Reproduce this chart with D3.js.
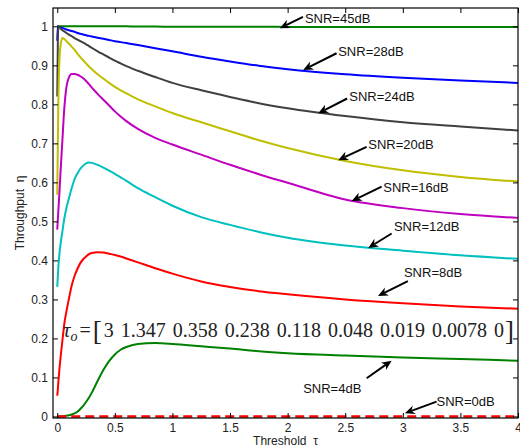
<!DOCTYPE html>
<html>
<head>
<meta charset="utf-8">
<script src="https://cdn.jsdelivr.net/npm/d3@7"></script>
<style>
  body { margin: 0; background: #fff; }
  .tick text { font-family: "Liberation Sans", Arial, sans-serif; font-size: 12px; fill: #222; }
  .tick line { stroke: #000; stroke-width: 1; }
</style>
</head>
<body>
<svg id="chart" width="520" height="448"></svg>
<script>
// Threshold samples shared by every curve
const tau = [0, 0.005, 0.01, 0.02, 0.03, 0.045, 0.06, 0.08, 0.1, 0.125, 0.15, 0.175, 0.2, 0.225, 0.25, 0.275, 0.3, 0.35,
             0.4, 0.45, 0.5, 0.55, 0.6, 0.7, 0.85, 1, 1.25, 1.5, 1.75, 2, 2.5, 3, 3.5, 4];

// Throughput for each SNR
const eta45 = [1, 1, 1, 1, 1, 1, 1, 1, 1, 1, 1, 1, 1, 1, 1, 1, 1, 1,
               1, 1, 1, 1, 1, 0.9995, 0.9995, 0.999, 0.999, 0.999, 0.999, 0.9985, 0.9985, 0.9985, 0.9985, 0.9985];
const eta28 = [0.963, 1.0, 0.999, 0.998, 0.997, 0.996, 0.994, 0.992, 0.990, 0.988, 0.986, 0.983, 0.981, 0.979, 0.977, 0.9755, 0.974, 0.971,
               0.968, 0.965, 0.962, 0.9595, 0.957, 0.952, 0.944, 0.936, 0.922, 0.910, 0.899, 0.890, 0.877, 0.868, 0.861, 0.855];
const eta24 = [0.82, 0.96, 1.0, 0.997, 0.994, 0.990, 0.987, 0.983, 0.979, 0.975, 0.970, 0.966, 0.962, 0.958, 0.954, 0.9495, 0.945, 0.936,
               0.928, 0.920, 0.912, 0.905, 0.898, 0.886, 0.870, 0.855, 0.836, 0.819, 0.803, 0.790, 0.770, 0.754, 0.743, 0.733];
const eta20 = [0.568, 0.70, 0.82, 0.92, 0.955, 0.970, 0.968, 0.962, 0.956, 0.948, 0.940, 0.930, 0.921, 0.913, 0.905, 0.897, 0.890, 0.877,
               0.866, 0.855, 0.845, 0.836, 0.828, 0.813, 0.795, 0.778, 0.754, 0.731, 0.708, 0.688, 0.655, 0.631, 0.614, 0.602];
const eta16 = [0.479, 0.505, 0.53, 0.58, 0.635, 0.71, 0.785, 0.845, 0.868, 0.878, 0.878, 0.876, 0.872, 0.867, 0.860, 0.852, 0.843, 0.827,
               0.812, 0.797, 0.782, 0.769, 0.757, 0.737, 0.714, 0.697, 0.671, 0.645, 0.621, 0.599, 0.556, 0.534, 0.519, 0.509];
const eta12 = [0.332, 0.36, 0.385, 0.42, 0.445, 0.475, 0.505, 0.535, 0.558, 0.585, 0.608, 0.623, 0.635, 0.643, 0.649, 0.651, 0.650, 0.645,
               0.638, 0.630, 0.622, 0.613, 0.604, 0.585, 0.562, 0.540, 0.511, 0.491, 0.473, 0.458, 0.438, 0.425, 0.413, 0.404];
const eta8  = [0.053, 0.07, 0.09, 0.125, 0.155, 0.195, 0.235, 0.27, 0.30, 0.335, 0.36, 0.378, 0.393, 0.403, 0.410, 0.416, 0.419, 0.421,
               0.420, 0.417, 0.414, 0.410, 0.405, 0.395, 0.380, 0.366, 0.346, 0.332, 0.321, 0.313, 0.300, 0.290, 0.282, 0.276];
const eta4  = [0, 0, 0, 0, 0.0003, 0.0006, 0.001, 0.002, 0.003, 0.005, 0.008, 0.012, 0.019, 0.027, 0.037, 0.048, 0.061, 0.091,
               0.119, 0.142, 0.159, 0.171, 0.178, 0.186, 0.188, 0.186, 0.180, 0.174, 0.167, 0.162, 0.156, 0.151, 0.147, 0.143];
const eta0  = [0, 0, 0, 0, 0, 0, 0, 0, 0, 0, 0, 0, 0, 0, 0, 0, 0, 0,
               0, 0, 0, 0, 0, 0, 0, 0, 0, 0, 0, 0, 0, 0, 0, 0];

const snrLabels = ["SNR=45dB", "SNR=28dB", "SNR=24dB", "SNR=20dB", "SNR=16dB", "SNR=12dB", "SNR=8dB", "SNR=4dB", "SNR=0dB"];

// Axis ticks
const xTicks = [0, 0.5, 1, 1.5, 2, 2.5, 3, 3.5, 4];
const xTickLabels = ["0", "0.5", "1", "1.5", "2", "2.5", "3", "3.5", "4"];
const yTicks = [0, 0.1, 0.2, 0.3, 0.4, 0.5, 0.6, 0.7, 0.8, 0.9, 1];
const yTickLabels = ["0", "0.1", "0.2", "0.3", "0.4", "0.5", "0.6", "0.7", "0.8", "0.9", "1"];

// Arrow annotations: text anchor, arrow tail and arrow tip in data units
const noteText = [[2.15, 1.021], [2.439, 0.935], [2.535, 0.820], [2.70, 0.696], [2.83, 0.586],
                  [2.923, 0.488], [3.01, 0.370], [2.135, 0.072], [3.293, 0.039]];
const noteTail = [[2.133, 1.024], [2.425, 0.931], [2.517, 0.815], [2.686, 0.691], [2.816, 0.589],
                  [2.903, 0.469], [3.044, 0.347], [2.686, 0.098], [3.293, 0.038]];
const noteTip  = [[1.933, 0.995], [2.135, 0.888], [2.266, 0.777], [2.439, 0.657], [2.556, 0.552],
                  [2.70, 0.432], [2.784, 0.309], [2.903, 0.143], [3.018, 0.008]];

const thresholds = ["3", "1.347", "0.358", "0.238", "0.118", "0.048", "0.019", "0.0078", "0"];

const series = [
  { values: eta45, color: "#008000" },
  { values: eta28, color: "#0000ff" },
  { values: eta24, color: "#404040" },
  { values: eta20, color: "#bfbf00" },
  { values: eta16, color: "#bf00bf" },
  { values: eta12, color: "#00bfbf" },
  { values: eta8,  color: "#ff0000" },
  { values: eta4,  color: "#008000" },
  { values: eta0,  color: "#ff0000", dash: "9,5" }
];

const W = 520, H = 448;
const m = { left: 53, right: 2, top: 8, bottom: 30 };
const svg = d3.select("#chart");

const x = d3.scaleLinear().domain([-0.037, 4]).range([m.left, W - m.right]);
const y = d3.scaleLinear().domain([-0.004, 1.047]).range([H - m.bottom, m.top]);

// Curves
const line = d3.line().x(d => x(d[0])).y(d => y(d[1])).curve(d3.curveMonotoneX);
const g = svg.append("g");
series.forEach(s => {
  g.append("path")
    .datum(tau.map((t, i) => [t, s.values[i]]))
    .attr("fill", "none")
    .attr("stroke", s.color)
    .attr("stroke-width", s.dash ? 2.5 : 2)
    .attr("stroke-dasharray", s.dash || null)
    .attr("d", line);
});

// Axes with inward ticks on all four sides
const xb = svg.append("g").attr("transform", `translate(0,${H - m.bottom})`)
  .call(d3.axisBottom(x).tickValues(xTicks).tickFormat((d, i) => xTickLabels[i])
    .tickSizeInner(-5).tickSizeOuter(0).tickPadding(5));
const xt = svg.append("g").attr("transform", `translate(0,${m.top})`)
  .call(d3.axisTop(x).tickValues(xTicks).tickFormat("").tickSizeInner(-5).tickSizeOuter(0));
const yl = svg.append("g").attr("transform", `translate(${m.left},0)`)
  .call(d3.axisLeft(y).tickValues(yTicks).tickFormat((d, i) => yTickLabels[i])
    .tickSizeInner(-5).tickSizeOuter(0).tickPadding(5));
const yr = svg.append("g").attr("transform", `translate(${W - m.right},0)`)
  .call(d3.axisRight(y).tickValues(yTicks).tickFormat("").tickSizeInner(-5).tickSizeOuter(0));
[xb, xt, yl, yr].forEach(a => a.select(".domain").remove());
xb.selectAll("text").attr("font-size", null);
yl.selectAll("text").attr("font-size", null);
svg.selectAll(".tick text").attr("font-family", null);

svg.append("rect")
  .attr("x", m.left).attr("y", m.top)
  .attr("width", W - m.right - m.left).attr("height", H - m.bottom - m.top)
  .attr("fill", "none").attr("stroke", "#000").attr("stroke-width", 1.2);

// Axis titles
svg.append("text")
  .attr("x", (m.left + W - m.right) / 2).attr("y", 445)
  .attr("text-anchor", "middle")
  .attr("font-family", "Liberation Sans, Arial, sans-serif").attr("font-size", 12).attr("fill", "#222")
  .attr("xml:space", "preserve")
  .text("Threshold  τ");
svg.append("text")
  .attr("transform", `translate(24,${(m.top + H - m.bottom) / 2}) rotate(-90)`)
  .attr("text-anchor", "middle")
  .attr("font-family", "Liberation Sans, Arial, sans-serif").attr("font-size", 12).attr("fill", "#222")
  .attr("xml:space", "preserve")
  .text("Throughput  η");

// Arrow annotations
const notes = svg.append("g");
snrLabels.forEach((lab, i) => {
  const [x0, y0] = [x(noteTail[i][0]), y(noteTail[i][1])];
  const [x1, y1] = [x(noteTip[i][0]), y(noteTip[i][1])];
  const ang = Math.atan2(y1 - y0, x1 - x0);
  const hl = 10, hw = 4.5;
  const bx = x1 - hl * Math.cos(ang), by = y1 - hl * Math.sin(ang);
  const nx = x1 - hl * 0.7 * Math.cos(ang), ny = y1 - hl * 0.7 * Math.sin(ang);
  notes.append("line")
    .attr("x1", x0).attr("y1", y0).attr("x2", nx).attr("y2", ny)
    .attr("stroke", "#000").attr("stroke-width", 2);
  const px = -Math.sin(ang), py = Math.cos(ang);
  notes.append("polygon")
    .attr("points", [[x1, y1], [bx + hw * px, by + hw * py], [nx, ny], [bx - hw * px, by - hw * py]].map(p => p.join(",")).join(" "))
    .attr("fill", "#000");
  notes.append("text")
    .attr("x", x(noteText[i][0])).attr("y", y(noteText[i][1]))
    .attr("dy", "0.35em")
    .attr("font-family", "Liberation Sans, Arial, sans-serif").attr("font-size", 13).attr("fill", "#111")
    .text(lab);
});

// Optimal thresholds
const f = svg.append("text")
  .attr("x", x(0.05)).attr("y", y(0.2035))
  .attr("font-family", "Liberation Serif, Times New Roman, serif")
  .attr("font-size", 20).attr("fill", "#222")
  .attr("xml:space", "preserve");
f.append("tspan").attr("font-style", "italic").attr("font-size", 21).text("τ");
f.append("tspan").attr("font-style", "italic").attr("font-size", 14).attr("dy", 4).text("o");
f.append("tspan").attr("dy", -4).attr("dx", 2).text("=");
f.append("tspan").attr("font-size", 27).attr("dy", 3).attr("dx", 2).text("[");
f.append("tspan").attr("dy", -3).attr("dx", 2).attr("word-spacing", 2).text(thresholds.join(" "));
f.append("tspan").attr("font-size", 27).attr("dy", 3).attr("dx", 1).text("]");
</script>
</body>
</html>
